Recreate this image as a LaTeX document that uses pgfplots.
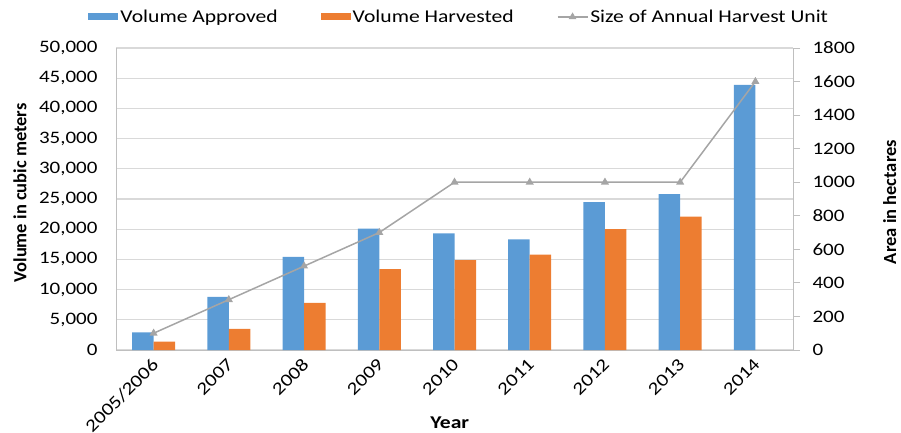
\documentclass[border=0pt]{standalone}
\usepackage{fontspec}
\setmainfont{Carlito}[FakeStretch=1.2]
\newfontfamily\rotfont{Carlito}
\usepackage{pgfplots}
\pgfplotsset{compat=1.18}
\definecolor{cblue}{HTML}{5B9BD5}
\definecolor{corange}{HTML}{ED7D31}
\definecolor{cgray}{HTML}{A5A5A5}
\definecolor{cgrid}{HTML}{D9D9D9}
\definecolor{caxis}{HTML}{BFBFBF}
\newcommand{\tfont}{\fontsize{17.5}{20}\selectfont}
\pgfplotsset{linelegend/.style={legend image code/.code={\draw[mark repeat=2,mark phase=2,##1] plot coordinates {(0pt,0pt) (15pt,0pt) (30pt,0pt)};}}}
\begin{document}
\begin{tikzpicture}
\useasboundingbox (0,0) rectangle (901pt,432pt);
\begin{axis}[
  at={(116pt,82pt)}, anchor=south west,
  scale only axis, width=677pt, height=302pt,
  xmin=-0.5, xmax=8.5, ymin=0, ymax=50000,
  xtick={0,...,8},
  xticklabels={2005/2006,2007,2008,2009,2010,2011,2012,2013,2014},
  ytick={0,5000,...,50000},
  scaled y ticks=false,
  /pgf/number format/assume math mode=true,
  /pgf/number format/1000 sep={,},
  axis x line*=bottom, axis y line*=left,
  axis line style={caxis, line width=1pt},
  major tick length=0pt,
  ymajorgrids, grid style={cgrid, line width=1.2pt},
  tick label style={font=\tfont, black},
  xticklabel style={rotate=45, anchor=north east, inner sep=2pt, yshift=-1pt, xshift=-5pt, font=\fontsize{17.8}{20}\selectfont},
  yticklabel style={xshift=-15pt},
  ylabel={\rotfont\bfseries\fontsize{18.5}{20}\selectfont Volume in cubic meters},
  every axis y label/.style={at={(axis description cs:-0.142,0.52)}, rotate=90, anchor=center},
  xlabel={\bfseries Year},
  every axis x label/.style={at={(axis description cs:0.493,-0.242)}, anchor=center, font=\fontsize{18}{20}\selectfont},
  legend style={at={(axis description cs:0.507,1.103)}, anchor=center, draw=none, fill=none,
    font=\fontsize{18}{20}\selectfont, legend columns=3, nodes={inner sep=2pt},
    /tikz/every even column/.append style={column sep=41pt}},
  legend cell align=left,
]
\addplot[ybar, bar width=21.5pt, bar shift=-10.75pt, fill=cblue, draw=none,
  legend image code/.code={\fill[cblue] (0pt,-3.5pt) rectangle (30pt,3.5pt);}]
  coordinates {(0,2900) (1,8800) (2,15400) (3,20100) (4,19300) (5,18300) (6,24500) (7,25800) (8,43900)};
\addlegendentry{Volume Approved}
\addplot[ybar, bar width=21.5pt, bar shift=10.75pt, fill=corange, draw=none,
  legend image code/.code={\fill[corange] (0pt,-3.5pt) rectangle (30pt,3.5pt);}]
  coordinates {(0,1400) (1,3500) (2,7800) (3,13400) (4,14900) (5,15800) (6,20000) (7,22100)};
\addlegendentry{Volume Harvested}
\addlegendimage{cgray, line width=1.5pt, mark=triangle*, mark size=3pt, linelegend}
\addlegendentry{Size of Annual Harvest Unit}
\end{axis}
\begin{axis}[
  at={(116pt,82pt)}, anchor=south west,
  scale only axis, width=677pt, height=302pt,
  xmin=-0.5, xmax=8.5, ymin=0, ymax=1800,
  ytick={0,200,...,1800},
  /pgf/number format/assume math mode=true,
  /pgf/number format/1000 sep={},
  axis y line*=right, axis x line=none,
  axis line style={caxis, line width=1pt},
  ytick style={caxis, line width=1pt},
  tick align=outside, major tick length=7pt,
  tick label style={font=\tfont, black},
  yticklabel style={xshift=9pt},
  ylabel={\rotfont\bfseries\fontsize{18.5}{20}\selectfont Area in hectares},
  every axis y label/.style={at={(axis description cs:1.143,0.49)}, rotate=90, anchor=center},
]
\addplot[cgray, line width=1.5pt, mark=triangle*, mark size=3.2pt, mark options={solid}]
  coordinates {(0,100) (1,300) (2,500) (3,700) (4,1000) (5,1000) (6,1000) (7,1000) (8,1600)};
\end{axis}
\end{tikzpicture}
\end{document}
